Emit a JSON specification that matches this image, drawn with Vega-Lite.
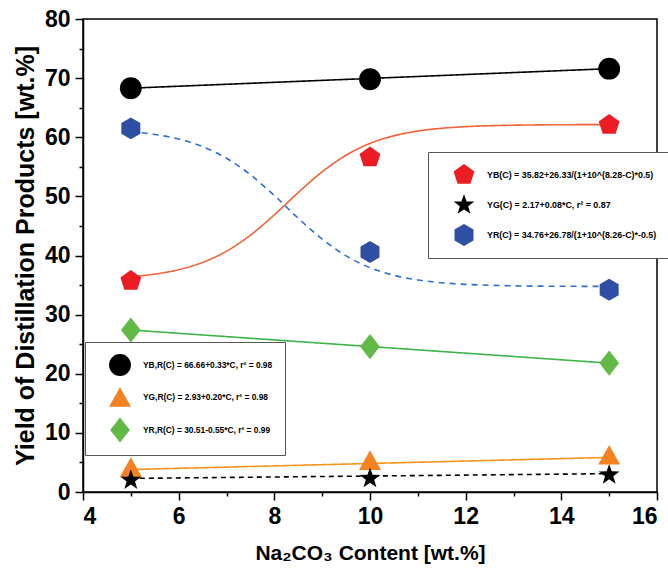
{
  "$schema": "https://vega.github.io/schema/vega-lite/v6.json",
  "width": 574,
  "height": 473,
  "autosize": {"type": "none"},
  "padding": {"left": 83, "top": 19, "right": 11, "bottom": 87},
  "background": "white",
  "config": {"view": {"stroke": "black", "strokeWidth": 1.5}, "font": "Liberation Sans"},
  "datasets": {
    "fits": [
      {"curve": "BR", "C": 5, "Y": 68.3}, {"curve": "BR", "C": 15, "Y": 71.6},
      {"curve": "GR", "C": 5, "Y": 3.8}, {"curve": "GR", "C": 15, "Y": 5.85},
      {"curve": "RR", "C": 5, "Y": 27.4}, {"curve": "RR", "C": 15, "Y": 21.8},
      {"curve": "G", "C": 5, "Y": 2.3}, {"curve": "G", "C": 15, "Y": 3.1},
      {"curve": "B", "C": 5, "Y": 36.41}, {"curve": "B", "C": 5.5, "Y": 36.85}, {"curve": "B", "C": 6, "Y": 37.6}, {"curve": "B", "C": 6.5, "Y": 38.83}, {"curve": "B", "C": 7, "Y": 40.73}, {"curve": "B", "C": 7.5, "Y": 43.44}, {"curve": "B", "C": 8, "Y": 46.88}, {"curve": "B", "C": 8.5, "Y": 50.65}, {"curve": "B", "C": 9, "Y": 54.15}, {"curve": "B", "C": 9.5, "Y": 56.96}, {"curve": "B", "C": 10, "Y": 58.96}, {"curve": "B", "C": 10.5, "Y": 60.25}, {"curve": "B", "C": 11, "Y": 61.05}, {"curve": "B", "C": 11.5, "Y": 61.52}, {"curve": "B", "C": 12, "Y": 61.79}, {"curve": "B", "C": 12.5, "Y": 61.95}, {"curve": "B", "C": 13, "Y": 62.04}, {"curve": "B", "C": 13.5, "Y": 62.09}, {"curve": "B", "C": 14, "Y": 62.12}, {"curve": "B", "C": 14.5, "Y": 62.13}, {"curve": "B", "C": 15, "Y": 62.14},
      {"curve": "R", "C": 5, "Y": 60.93}, {"curve": "R", "C": 5.5, "Y": 60.47}, {"curve": "R", "C": 6, "Y": 59.69}, {"curve": "R", "C": 6.5, "Y": 58.42}, {"curve": "R", "C": 7, "Y": 56.45}, {"curve": "R", "C": 7.5, "Y": 53.66}, {"curve": "R", "C": 8, "Y": 50.14}, {"curve": "R", "C": 8.5, "Y": 46.31}, {"curve": "R", "C": 9, "Y": 42.77}, {"curve": "R", "C": 9.5, "Y": 39.94}, {"curve": "R", "C": 10, "Y": 37.94}, {"curve": "R", "C": 10.5, "Y": 36.65}, {"curve": "R", "C": 11, "Y": 35.86}, {"curve": "R", "C": 11.5, "Y": 35.39}, {"curve": "R", "C": 12, "Y": 35.12}, {"curve": "R", "C": 12.5, "Y": 34.96}, {"curve": "R", "C": 13, "Y": 34.87}, {"curve": "R", "C": 13.5, "Y": 34.82}, {"curve": "R", "C": 14, "Y": 34.8}, {"curve": "R", "C": 14.5, "Y": 34.78}, {"curve": "R", "C": 15, "Y": 34.77}
    ],
    "points": [
      {"group": 1, "label": "YB,R(C) = 66.66+0.33*C, r² = 0.98", "C": 5, "Y": 68.3},
      {"group": 1, "label": "YB,R(C) = 66.66+0.33*C, r² = 0.98", "C": 10, "Y": 69.8},
      {"group": 1, "label": "YB,R(C) = 66.66+0.33*C, r² = 0.98", "C": 15, "Y": 71.6},
      {"group": 1, "label": "YG,R(C) = 2.93+0.20*C, r² = 0.98", "C": 5, "Y": 4.2},
      {"group": 1, "label": "YG,R(C) = 2.93+0.20*C, r² = 0.98", "C": 10, "Y": 5.4},
      {"group": 1, "label": "YG,R(C) = 2.93+0.20*C, r² = 0.98", "C": 15, "Y": 6.3},
      {"group": 1, "label": "YR,R(C) = 30.51-0.55*C, r² = 0.99", "C": 5, "Y": 27.4},
      {"group": 1, "label": "YR,R(C) = 30.51-0.55*C, r² = 0.99", "C": 10, "Y": 24.6},
      {"group": 1, "label": "YR,R(C) = 30.51-0.55*C, r² = 0.99", "C": 15, "Y": 21.8},
      {"group": 2, "label": "YB(C) = 35.82+26.33/(1+10^(8.28-C)*0.5)", "C": 5, "Y": 35.7},
      {"group": 2, "label": "YB(C) = 35.82+26.33/(1+10^(8.28-C)*0.5)", "C": 10, "Y": 56.6},
      {"group": 2, "label": "YB(C) = 35.82+26.33/(1+10^(8.28-C)*0.5)", "C": 15, "Y": 62.1},
      {"group": 2, "label": "YG(C) = 2.17+0.08*C, r² = 0.87", "C": 5, "Y": 2.0},
      {"group": 2, "label": "YG(C) = 2.17+0.08*C, r² = 0.87", "C": 10, "Y": 2.3},
      {"group": 2, "label": "YG(C) = 2.17+0.08*C, r² = 0.87", "C": 15, "Y": 2.9},
      {"group": 2, "label": "YR(C) = 34.76+26.78/(1+10^(8.26-C)*-0.5)", "C": 5, "Y": 61.5},
      {"group": 2, "label": "YR(C) = 34.76+26.78/(1+10^(8.26-C)*-0.5)", "C": 10, "Y": 40.6},
      {"group": 2, "label": "YR(C) = 34.76+26.78/(1+10^(8.26-C)*-0.5)", "C": 15, "Y": 34.2}
    ]
  },
  "layer": [
    {
      "data": {"name": "fits"},
      "mark": {"type": "line", "strokeWidth": 1.6, "interpolate": "monotone"},
      "encoding": {
        "x": {
          "field": "C", "type": "quantitative",
          "scale": {"domain": [4, 16], "nice": false, "zero": false},
          "axis": {
            "orient": "bottom", "values": [4, 6, 8, 10, 12, 14, 16], "grid": false,
            "domainColor": "black", "domainWidth": 1.5, "tickColor": "black", "tickWidth": 1.5, "tickSize": 8,
            "labelFont": "Liberation Sans", "labelFontSize": 23, "labelFontWeight": "bold", "labelColor": "black", "labelPadding": 5,
            "title": "Na₂CO₃ Content [wt.%]", "titleFont": "Liberation Sans", "titleFontSize": 21, "titleFontWeight": "bold", "titleColor": "black", "titlePadding": 14
          }
        },
        "y": {
          "field": "Y", "type": "quantitative",
          "scale": {"domain": [0, 80], "nice": false},
          "axis": {
            "orient": "left", "values": [0, 10, 20, 30, 40, 50, 60, 70, 80], "grid": false,
            "domainColor": "black", "domainWidth": 1.5, "tickColor": "black", "tickWidth": 1.5, "tickSize": 8,
            "labelFont": "Liberation Sans", "labelFontSize": 23, "labelFontWeight": "bold", "labelColor": "black", "labelPadding": 5,
            "title": "Yield of Distillation Products [wt.%]", "titleFont": "Liberation Sans", "titleFontSize": 25, "titleFontWeight": "bold", "titleColor": "black", "titlePadding": 6
          }
        },
        "detail": {"field": "curve"},
        "color": {
          "field": "curve", "type": "nominal",
          "scale": {"domain": ["BR", "GR", "RR", "G", "B", "R"], "range": ["#000000", "#f7941d", "#3cb44a", "#000000", "#f4623a", "#2e6fd6"]},
          "legend": null
        },
        "strokeDash": {
          "field": "curve", "type": "nominal",
          "scale": {"domain": ["BR", "GR", "RR", "G", "B", "R"], "range": [[1, 0], [1, 0], [1, 0], [5, 4], [1, 0], [6, 5]]},
          "legend": null
        }
      }
    },
    {
      "data": {"name": "points"},
      "mark": {"type": "point", "opacity": 0},
      "encoding": {
        "x": {
          "field": "C", "type": "quantitative",
          "axis": {"orient": "bottom", "values": [5, 7, 9, 11, 13, 15], "labels": false, "domain": false, "grid": false, "tickColor": "black", "tickWidth": 1.5, "tickSize": 4, "title": null}
        },
        "y": {
          "field": "Y", "type": "quantitative",
          "axis": {"orient": "left", "values": [5, 15, 25, 35, 45, 55, 65, 75], "labels": false, "domain": false, "grid": false, "tickColor": "black", "tickWidth": 1.5, "tickSize": 4, "title": null}
        }
      }
    },
    {
      "data": {"name": "points"},
      "transform": [{"filter": "datum.group === 1"}],
      "mark": {"type": "point", "filled": true, "opacity": 1, "size": 480, "strokeWidth": 0},
      "encoding": {
        "x": {"field": "C", "type": "quantitative", "axis": null},
        "y": {"field": "Y", "type": "quantitative", "axis": null},
        "color": {
          "field": "label", "type": "nominal",
          "scale": {"domain": ["YB,R(C) = 66.66+0.33*C, r² = 0.98", "YG,R(C) = 2.93+0.20*C, r² = 0.98", "YR,R(C) = 30.51-0.55*C, r² = 0.99"], "range": ["#000000", "#f58220", "#62b946"]},
          "legend": {
            "orient": "none", "legendX": 2, "legendY": 323, "title": null,
            "strokeColor": "#555555", "fillColor": "white", "padding": 12,
            "symbolSize": 480, "symbolOffset": 12, "symbolStrokeWidth": 0, "symbolOpacity": 1,
            "labelOffset": 12, "rowPadding": 10, "labelLimit": 400,
            "labelFont": "Liberation Sans", "labelFontSize": 8.4, "labelFontWeight": "bold", "labelColor": "black"
          }
        },
        "shape": {
          "field": "label", "type": "nominal",
          "scale": {"domain": ["YB,R(C) = 66.66+0.33*C, r² = 0.98", "YG,R(C) = 2.93+0.20*C, r² = 0.98", "YR,R(C) = 30.51-0.55*C, r² = 0.99"], "range": ["circle", "M0,-0.9L1,0.9L-1,0.9Z", "M0,-1.15L0.9,0L0,1.15L-0.9,0Z"]}
        }
      }
    },
    {
      "data": {"name": "points"},
      "transform": [{"filter": "datum.group === 2"}],
      "mark": {"type": "point", "filled": true, "opacity": 1, "size": 480, "strokeWidth": 0},
      "encoding": {
        "x": {"field": "C", "type": "quantitative", "axis": null},
        "y": {"field": "Y", "type": "quantitative", "axis": null},
        "color": {
          "field": "label", "type": "nominal",
          "scale": {"domain": ["YB(C) = 35.82+26.33/(1+10^(8.28-C)*0.5)", "YG(C) = 2.17+0.08*C, r² = 0.87", "YR(C) = 34.76+26.78/(1+10^(8.26-C)*-0.5)"], "range": ["#ec1c24", "#000000", "#2e4fa3"]},
          "legend": {
            "orient": "none", "legendX": 345, "legendY": 133, "title": null,
            "strokeColor": "#555555", "fillColor": "white", "padding": 12,
            "symbolSize": 480, "symbolOffset": 13, "symbolStrokeWidth": 0, "symbolOpacity": 1,
            "labelOffset": 12, "rowPadding": 10, "labelLimit": 400,
            "labelFont": "Liberation Sans", "labelFontSize": 8.9, "labelFontWeight": "bold", "labelColor": "black"
          }
        },
        "shape": {
          "field": "label", "type": "nominal",
          "scale": {"domain": ["YB(C) = 35.82+26.33/(1+10^(8.28-C)*0.5)", "YG(C) = 2.17+0.08*C, r² = 0.87", "YR(C) = 34.76+26.78/(1+10^(8.26-C)*-0.5)"], "range": ["M0,-1L0.951,-0.309L0.588,0.809L-0.588,0.809L-0.951,-0.309Z", "M0,-1L0.235,-0.324L0.951,-0.309L0.38,0.124L0.588,0.809L0,0.4L-0.588,0.809L-0.38,0.124L-0.951,-0.309L-0.235,-0.324Z", "M0,-1L0.866,-0.5L0.866,0.5L0,1L-0.866,0.5L-0.866,-0.5Z"]}
        }
      }
    }
  ],
  "resolve": {
    "scale": {"color": "independent", "shape": "independent", "strokeDash": "independent"},
    "axis": {"x": "independent", "y": "independent"}
  }
}
